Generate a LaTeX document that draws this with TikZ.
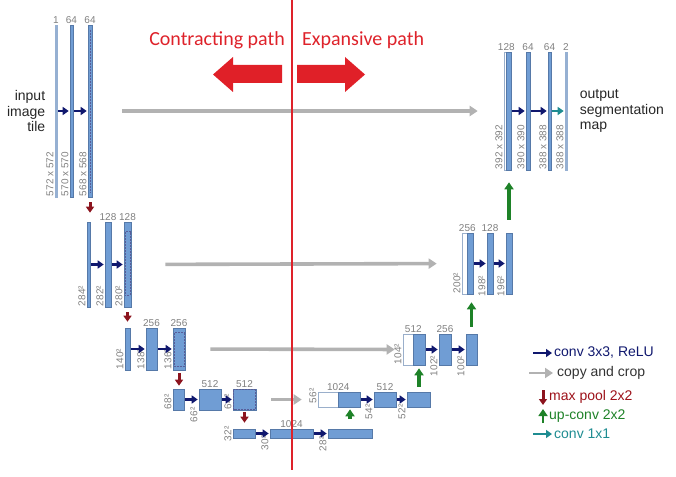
\documentclass[tikz,border=0pt]{standalone}
\usepackage{fontspec}
\setmainfont{Liberation Sans}
\newfontfamily\pathfont{Carlito}
\usetikzlibrary{arrows.meta,positioning}
\definecolor{mapblue}{RGB}{112,157,212}
\definecolor{mapline}{RGB}{86,121,168}
\definecolor{thinblue}{RGB}{150,176,210}
\definecolor{convblue}{RGB}{16,24,110}
\definecolor{copygray}{RGB}{178,178,178}
\definecolor{poolred}{RGB}{140,20,30}
\definecolor{upgreen}{RGB}{30,130,40}
\definecolor{oneteal}{RGB}{30,140,145}
\definecolor{pathred}{RGB}{222,34,42}
\definecolor{lblgray}{RGB}{128,128,128}
\newcommand{\sidefont}{\fontsize{14}{15.5}\selectfont}

\begin{document}
\begin{tikzpicture}[x=1pt,y=-1pt,
  fmap/.style 2 args={draw=mapline,fill=mapblue,line width=0.6pt,inner sep=0pt,minimum width=#1,minimum height=#2},
  cmap/.style 2 args={fmap={#1}{#2},fill=white,draw=mapline!60},
  thinmap/.style={fmap={2pt}{#1},fill=thinblue,draw=thinblue},
  chan/.style={anchor=south,inner sep=1pt,text=lblgray,font=\fontsize{10}{10}\selectfont},
  dim/.style={rotate=90,anchor=south west,inner sep=1pt,text=lblgray,font=\fontsize{10}{10}\selectfont},
  cropline/.style={draw=convblue!70,line width=0.5pt,dash pattern=on 2pt off 1pt},
  conv/.style={color=convblue,line width=2.6pt,-{Triangle[width=8pt,length=6pt]},shorten <=1pt,shorten >=1pt},
  convone/.style={conv,color=oneteal},
  copycrop/.style={color=copygray,line width=3.6pt,-{Triangle[width=10pt,length=8pt]}},
  pool/.style={color=poolred,line width=3pt,-{Triangle[width=8pt,length=6pt]}},
  upconv/.style={color=upgreen,line width=3.2pt,-{Triangle[width=9pt,length=7pt]}},
  legend/.style={anchor=west,inner sep=0pt,font=\sidefont}]
  \useasboundingbox (0,0) rectangle (676,476);

  % contracting path
  \node[thinmap=172] (l1a) at (56,111) {};
  \node[fmap={3pt}{172pt}] (l1b) at (71.5,111) {};
  \node[fmap={4pt}{172pt}] (l1c) at (90,111) {};
  \node[fmap={3pt}{85pt}] (l2a) at (88.5,264.5) {};
  \node[fmap={6pt}{85pt}] (l2b) at (108,264.5) {};
  \node[fmap={7pt}{85pt}] (l2c) at (127.5,264.5) {};
  \node[fmap={5pt}{42pt}] (l3a) at (127.5,349) {};
  \node[fmap={11pt}{42pt}] (l3b) at (151.5,349) {};
  \node[fmap={12pt}{42pt}] (l3c) at (179,349) {};
  \node[fmap={11pt}{21pt}] (l4a) at (178.5,399.5) {};
  \node[fmap={22pt}{21pt}] (l4b) at (210,399.5) {};
  \node[fmap={23pt}{21pt}] (l4c) at (244.5,399.5) {};
  \node[fmap={22pt}{9pt}] (l5a) at (244,433.5) {};
  \node[fmap={43pt}{9pt}] (l5b) at (291.5,433.5) {};
  \node[fmap={44pt}{9pt}] (l5c) at (350,433.5) {};
  \draw[cropline] ([shift={(0,5)}]l1c.north) -- ([shift={(0,-4)}]l1c.south);
  \draw[cropline] ([shift={(1.2,10)}]l2c.north west) rectangle ([shift={(-1.2,-12)}]l2c.south east);
  \draw[cropline] ([shift={(1.5,5)}]l3c.north west) rectangle ([shift={(-1.5,-4)}]l3c.south east);
  \draw[cropline] ([shift={(1,1)}]l4c.north west) rectangle ([shift={(-1,-1)}]l4c.south east);

  % expansive path
  \node[cmap={20pt}{15pt}] (r4w) at (328,399.5) {};
  \node[fmap={22pt}{15pt}] (r4a) at (349,399.5) {};
  \node[fmap={22pt}{15pt}] (r4b) at (385,399.5) {};
  \node[fmap={23pt}{15pt}] (r4c) at (418.5,399.5) {};
  \node[cmap={10pt}{31pt}] (r3w) at (408,349.5) {};
  \node[fmap={12pt}{31pt}] (r3a) at (419,349.5) {};
  \node[fmap={12pt}{31pt}] (r3b) at (445,349.5) {};
  \node[fmap={11pt}{31pt}] (r3c) at (471.5,349.5) {};
  \node[cmap={5pt}{61pt}] (r2w) at (464.5,263.5) {};
  \node[fmap={6pt}{61pt}] (r2a) at (470,263.5) {};
  \node[fmap={6pt}{61pt}] (r2b) at (490,263.5) {};
  \node[fmap={6pt}{61pt}] (r2c) at (509,263.5) {};
  \node[cmap={2pt}{118pt}] (r1w) at (505,111) {};
  \node[fmap={5pt}{118pt}] (r1a) at (508.5,111) {};
  \node[fmap={4pt}{118pt}] (r1b) at (528,111) {};
  \node[fmap={3pt}{118pt}] (r1c) at (549.5,111) {};
  \node[thinmap=118] (r1d) at (566,111) {};

  % channels
  \node[chan] at (l1a.north) {1};
  \node[chan] at (l1b.north) {64};
  \node[chan] at (l1c.north) {64};
  \node[chan] at (l2b.north) {128};
  \node[chan] at (l2c.north) {128};
  \node[chan] at (l3b.north) {256};
  \node[chan] at (l3c.north) {256};
  \node[chan] at (l4b.north) {512};
  \node[chan] at (l4c.north) {512};
  \node[chan] at (l5b.north) {1024};
  \node[chan] at (r4w.north east) {1024};
  \node[chan] at (r4b.north) {512};
  \node[chan] at (r3w.north east) {512};
  \node[chan] at (r3b.north) {256};
  \node[chan] at (r2w.north east) {256};
  \node[chan] at (r2b.north) {128};
  \node[chan] at (r1w.north east) {128};
  \node[chan] at (r1b.north) {64};
  \node[chan] at (r1c.north) {64};
  \node[chan] at (r1d.north) {2};

  % sizes
  \node[dim] at (l1a.south west) {572 x 572};
  \node[dim] at (l1b.south west) {570 x 570};
  \node[dim] at (l1c.south west) {568 x 568};
  \node[dim] at (l2a.south west) {284²};
  \node[dim] at (l2b.south west) {282²};
  \node[dim] at (l2c.south west) {280²};
  \node[dim] at (l3a.south west) {140²};
  \node[dim] at (l3b.south west) {138²};
  \node[dim] at (l3c.south west) {136²};
  \node[dim] at (l4a.south west) {68²};
  \node[yshift=-13pt,dim] at (l4b.south west) {66²};
  \node[dim] at (l4c.south west) {64²};
  \node[yshift=-4pt,dim] at (l5a.south west) {32²};
  \node[yshift=-13pt,dim] at (l5b.south west) {30²};
  \node[yshift=-14pt,dim] at (l5c.south west) {28²};
  \node[yshift=3pt,dim] at (r4w.south west) {56²};
  \node[yshift=-13pt,dim] at (r4b.south west) {54²};
  \node[yshift=-13pt,dim] at (r4c.south west) {52²};
  \node[dim] at (r3w.south west) {104²};
  \node[yshift=-12pt,dim] at (r3b.south west) {102²};
  \node[yshift=-12pt,dim] at (r3c.south west) {100²};
  \node[dim] at (r2w.south west) {200²};
  \node[yshift=-3pt,dim] at (r2b.south west) {198²};
  \node[yshift=-3pt,dim] at (r2c.south west) {196²};
  \node[dim] at (r1w.south west) {392 x 392};
  \node[dim] at (r1b.south west) {390 x 390};
  \node[dim] at (r1c.south west) {388 x 388};
  \node[dim] at (r1d.south west) {388 x 388};

  % arrows
  \path[conv]
	(l1a) edge (l1b) (l1b) edge (l1c)
	(l2a) edge (l2b) (l2b) edge (l2c)
	(l3a) edge (l3b) (l3b) edge (l3c)
	(l4a) edge (l4b) (l4b) edge (l4c)
	(l5a) edge (l5b) (l5b) edge (l5c)
	(r4a) edge (r4b) (r4b) edge (r4c)
	(r3a) edge (r3b) (r3b) edge (r3c)
	(r2a) edge (r2b) (r2b) edge (r2c)
	(r1a) edge (r1b) (r1b) edge (r1c);
  \draw[convone] (r1c) -- (r1d);
  \path[copycrop]
	(l1c) edge [shorten <=30pt, shorten >=26pt] (r1w)
	(l2c) edge [shorten <=34pt, shorten >=25pt] (r2w)
	(l3c) edge [shorten <=25pt, shorten >=8pt] (r3w)
	(l4c) edge [shorten <=15pt, shorten >=16pt] (r4w);
  \path[pool]
	(l1c.south) edge [shorten <=5pt, shorten >=9pt] (l1c.south |- l2a.north)
	(l2c.south) edge [shorten <=5pt, shorten >=6pt] (l2c.south |- l3a.north)
	(l3c.south) edge [shorten <=3pt, shorten >=3pt] (l3c.south |- l4a.north)
	(l4c.south) edge [shorten <=2pt, shorten >=6pt] (l4c.south |- l5a.north);
  \path[upconv]
	(l5c.north) edge [shorten <=10pt, shorten >=2pt] (l5c.north |- r4a.south)
	(r3a.south |- r4c.north) edge [shorten <=5pt, shorten >=3pt] (r3a.south)
	(r3c.north) edge [shorten <=7pt, shorten >=8pt] (r3c.north |- r2a.south)
	(r2c.north) edge [shorten <=13pt, shorten >=12pt] (r2c.north |- r1a.south);

  % texts
  \node[font=\sidefont,text=black!85,align=right,left=6pt of l1a] (inlbl) {input\\image\\tile};
  \node[font=\sidefont,text=black!85,align=left,right=9pt of r1d] (outlbl) {output\\segmentation\\map};
  \draw[pathred,line width=2pt] (292,0) -- (292,470);
  \node[anchor=east,inner sep=0pt,text=pathred,font=\pathfont\fontsize{20}{22}\selectfont] (cpath) at (285,40) {Contracting path};
  \node[anchor=west,inner sep=0pt,text=pathred,font=\pathfont\fontsize{20}{22}\selectfont] (epath) at (302,40) {Expansive path};
  \fill[pathred!95!red] (282,65) -- (233,65) -- (233,57) -- (213,74.5) -- (233,92) -- (233,83) -- (282,83) -- cycle;
  \fill[pathred!95!red] (297,65) -- (345,65) -- (345,57) -- (365,74.5) -- (345,92) -- (345,83) -- (297,83) -- cycle;

  % legend
  \node[legend,text=convblue] (lgconv) at (554,353) {conv 3x3, ReLU};
  \node[legend,text=black!80] (lgcopy) at (557,373) {copy and crop};
  \node[legend,text=poolred!85!red] (lgpool) at (549,397) {max pool 2x2};
  \node[legend,text=upgreen] (lgup) at (549,416) {up-conv 2x2};
  \node[legend,text=oneteal] (lgone) at (554,434) {conv 1x1};
  \coordinate (lgconvs) at (532,353);
  \coordinate (lgcopys) at (529,373);
  \coordinate (lgpoolt) at (543,390);
  \coordinate (lgpoolb) at (543,405);
  \coordinate (lgupb) at (543,423);
  \coordinate (lgupt) at (543,409);
  \coordinate (lgones) at (532,434);
  \draw[conv,shorten >=2pt] (lgconvs) -- (lgconv);
  \draw[copycrop,line width=2.6pt,shorten >=4pt] (lgcopys) -- (lgcopy);
  \draw[pool] (lgpoolt) -- (lgpoolb);
  \draw[upconv,line width=2.6pt] (lgupb) -- (lgupt);
  \draw[convone,shorten >=2pt] (lgones) -- (lgone);
\end{tikzpicture}
\end{document}
